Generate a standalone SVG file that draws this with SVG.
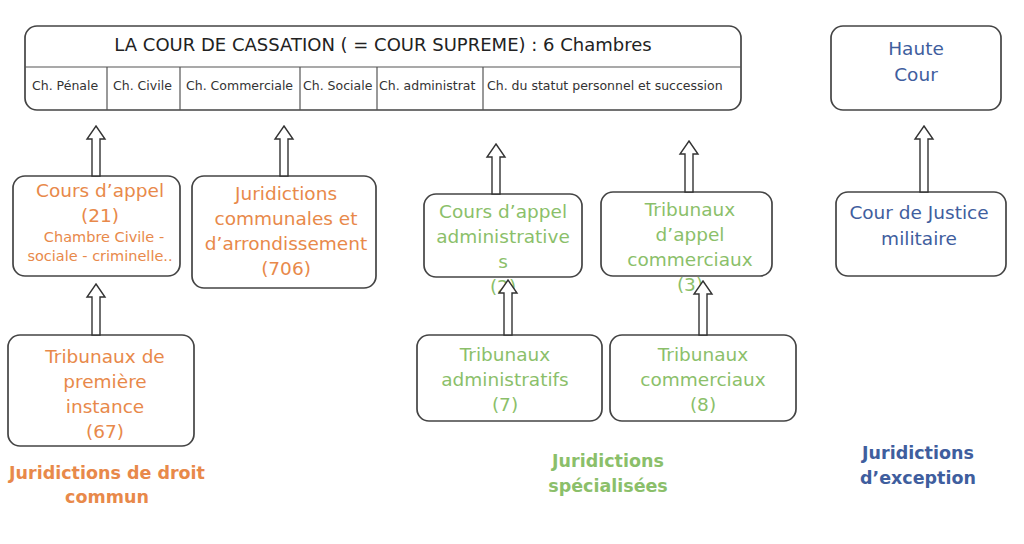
<svg xmlns="http://www.w3.org/2000/svg" width="1024" height="544" viewBox="0 0 1024 544">
<style>
.box{fill:#fff;stroke:#444;stroke-width:1.7}
.ln{stroke:#555;stroke-width:1.2}
.arr{fill:#fff;stroke:#333;stroke-width:1.4;stroke-linejoin:miter}
text{font-family:"DejaVu Sans","Liberation Sans",sans-serif;text-anchor:middle}
.o{fill:#e8894a;font-size:18.5px}
.os{fill:#e8894a;font-size:14.5px}
.g{fill:#8bbf6a;font-size:18.5px}
.b{fill:#3f5e9e;font-size:18.5px}
.t{fill:#222;font-size:18px}
.ch{fill:#333;font-size:12.5px;text-anchor:start}
.ob{fill:#e8894a;font-size:17.5px;font-weight:bold}
.gb{fill:#8bbf6a;font-size:17.5px;font-weight:bold}
.bb{fill:#3f5e9e;font-size:17.5px;font-weight:bold}
</style>
<rect width="1024" height="544" fill="#fff"/>
<g id="cassation">
<rect class="box" x="25" y="26" width="716" height="84" rx="12"/>
<line class="ln" x1="25" y1="67" x2="741" y2="67"/>
<line class="ln" x1="107" y1="67" x2="107" y2="110"/>
<line class="ln" x1="180" y1="67" x2="180" y2="110"/>
<line class="ln" x1="300" y1="67" x2="300" y2="110"/>
<line class="ln" x1="377" y1="67" x2="377" y2="110"/>
<line class="ln" x1="483" y1="67" x2="483" y2="110"/>
<text class="t" x="383" y="51">LA COUR DE CASSATION ( = COUR SUPREME) : 6 Chambres</text>
<text class="ch" x="32" y="90">Ch. Pénale</text>
<text class="ch" x="113" y="90">Ch. Civile</text>
<text class="ch" x="186" y="90">Ch. Commerciale</text>
<text class="ch" x="303" y="90">Ch. Sociale</text>
<text class="ch" x="379" y="90">Ch. administrat</text>
<text class="ch" x="487" y="90">Ch. du statut personnel et succession</text>
</g>
<g id="haute-cour">
<rect class="box" x="831" y="26" width="170" height="84" rx="12"/>
<text class="b" x="916" y="55">Haute</text>
<text class="b" x="916" y="81">Cour</text>
</g>
<g id="cours-appel">
<rect class="box" x="13" y="176" width="167" height="100" rx="12"/>
<text class="o" x="100" y="197">Cours d’appel</text>
<text class="o" x="100" y="222">(21)</text>
<text class="os" x="104" y="242">Chambre Civile -</text>
<text class="os" x="100" y="261">sociale - criminelle..</text>
</g>
<g id="communales">
<rect class="box" x="192" y="176" width="184" height="112" rx="12"/>
<text class="o" x="286" y="200">Juridictions</text>
<text class="o" x="286" y="225">communales et</text>
<text class="o" x="286" y="250">d’arrondissement</text>
<text class="o" x="286" y="275">(706)</text>
</g>
<g id="premiere-instance">
<rect class="box" x="8" y="335" width="186" height="111" rx="12"/>
<text class="o" x="105" y="363">Tribunaux de</text>
<text class="o" x="105" y="388">première</text>
<text class="o" x="105" y="413">instance</text>
<text class="o" x="105" y="438">(67)</text>
</g>
<g id="appel-admin">
<rect class="box" x="424" y="194" width="158" height="83" rx="12"/>
<text class="g" x="503" y="218">Cours d’appel</text>
<text class="g" x="503" y="243">administrative</text>
<text class="g" x="503" y="268">s</text>
<text class="g" x="503" y="293">(2)</text>
</g>
<g id="appel-comm">
<rect class="box" x="601" y="192" width="171" height="84" rx="12"/>
<text class="g" x="690" y="216">Tribunaux</text>
<text class="g" x="690" y="241">d’appel</text>
<text class="g" x="690" y="266">commerciaux</text>
<text class="g" x="690" y="291">(3)</text>
</g>
<g id="trib-admin">
<rect class="box" x="417" y="335" width="185" height="86" rx="12"/>
<text class="g" x="505" y="361">Tribunaux</text>
<text class="g" x="505" y="386">administratifs</text>
<text class="g" x="505" y="411">(7)</text>
</g>
<g id="trib-comm">
<rect class="box" x="610" y="335" width="186" height="86" rx="12"/>
<text class="g" x="703" y="361">Tribunaux</text>
<text class="g" x="703" y="386">commerciaux</text>
<text class="g" x="703" y="411">(8)</text>
</g>
<g id="justice-militaire">
<rect class="box" x="836" y="192" width="170" height="84" rx="12"/>
<text class="b" x="919" y="219">Cour de Justice</text>
<text class="b" x="919" y="245">militaire</text>
</g>
<g id="labels">
<text class="ob" x="107" y="479">Juridictions de droit</text>
<text class="ob" x="107" y="503">commun</text>
<text class="gb" x="608" y="467">Juridictions</text>
<text class="gb" x="608" y="492">spécialisées</text>
<text class="bb" x="918" y="459">Juridictions</text>
<text class="bb" x="918" y="484">d’exception</text>
</g>
<g id="connectors">
<polygon class="arr" points="96,126 105,139 100,139 100,176 92,176 92,139 87,139"/>
<polygon class="arr" points="284,126 293,139 288,139 288,176 280,176 280,139 275,139"/>
<polygon class="arr" points="96,284 105,297 100,297 100,335 92,335 92,297 87,297"/>
<polygon class="arr" points="496,144 505,157 500,157 500,194 492,194 492,157 487,157"/>
<polygon class="arr" points="689,141 698,154 693,154 693,192 685,192 685,154 680,154"/>
<polygon class="arr" points="508,280 517,293 512,293 512,335 504,335 504,293 499,293"/>
<polygon class="arr" points="703,281 712,294 707,294 707,335 699,335 699,294 694,294"/>
<polygon class="arr" points="924,126 933,139 928,139 928,192 920,192 920,139 915,139"/>
</g>
</svg>
